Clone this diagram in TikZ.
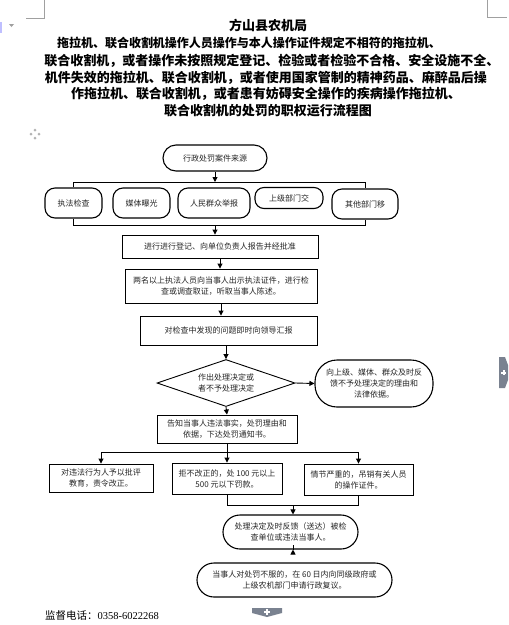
\documentclass[tikz,border=0pt]{standalone}
\usepackage{fontspec}
\newfontfamily\cjk{Noto Sans CJK SC}
\newfontfamily\serifnum{Liberation Serif}
\usetikzlibrary{arrows.meta,shapes.geometric}
\definecolor{artgray}{HTML}{A0A0A0}
\definecolor{tabgray}{HTML}{7A8290}
\tikzset{
  txt/.style={font=\cjk\fontsize{8}{11}\selectfont, text=black!85, align=center, inner sep=0pt},
  rectbox/.style={txt, draw, line width=0.9pt, rectangle},
  stadbox/.style={txt, draw, line width=1.1pt, rectangle},
  diambox/.style={txt, draw, line width=0.9pt, diamond, aspect=2.9},
  arr/.style={line width=0.9pt, -{Triangle[length=5pt,width=5pt]}},
  conn/.style={line width=0.9pt},
  ttl/.style={font=\cjk\bfseries\fontsize{13}{15}\selectfont, inner sep=0pt},
}
\begin{document}
\begin{tikzpicture}[x=1pt,y=-1pt]
\useasboundingbox[fill=white] (0,0) rectangle (509,625);

% page artifacts
\draw[artgray, line width=0.8pt] (44,0) -- (44,18) -- (26,18);
\draw[artgray, line width=0.8pt] (487,0) -- (487,17) -- (507,17);
\fill[blue!25] (0,22) rectangle (2,33);
\fill[artgray] (9,24) -- (14,24) -- (11.5,27) -- cycle;
\begin{scope}[shift={(35,134)}]
  \foreach \dx/\dy in {0/-4,0/4,-4/0,4/0}
    \fill[artgray!80] (\dx,\dy) +(-1.5,0) -- +(0,-1.5) -- +(1.5,0) -- +(0,1.5) -- cycle;
\end{scope}
\fill[tabgray] (499,357) -- (505,357) -- (508,365) -- (508,380) -- (505,388) -- (499,388) -- cycle;
\fill[white] (501,371.5) rectangle (506,373.5);
\fill[white] (502.5,370) rectangle (504.5,375);
\fill[tabgray] (252,608) -- (282,608) -- (282,613) -- (267,617) -- (252,613) -- cycle;
\fill[white] (264,611) rectangle (270,613);
\fill[white] (266,609) rectangle (268,615);

% title
\node[ttl] (t1) at (268,25) {方山县农机局};
\node[ttl, font=\cjk\bfseries\fontsize{12}{14}\selectfont] (t2) at (249,43) {拖拉机、联合收割机操作人员操作与本人操作证件规定不相符的拖拉机、};
\node[ttl] (t3) at (272,61) {联合收割机，或者操作未按照规定登记、检验或者检验不合格、安全设施不全、};
\node[ttl] (t4) at (266,78) {机件失效的拖拉机、联合收割机，或者使用国家管制的精神药品、麻醉品后操};
\node[ttl] (t5) at (266,94) {作拖拉机、联合收割机，或者患有妨碍安全操作的疾病操作拖拉机、};
\node[ttl] (t6) at (268,111) {联合收割机的处罚的职权运行流程图};

% source
\node[stadbox, minimum width=104pt, minimum height=26pt, rounded corners=13pt] (src) at (215,158) {行政处罚案件来源};
\node[stadbox, minimum width=57pt, minimum height=30pt, rounded corners=10pt] (a1) at (73.5,203) {执法检查};
\node[stadbox, minimum width=57pt, minimum height=30pt, rounded corners=10pt] (a2) at (141.5,203) {媒体曝光};
\node[stadbox, minimum width=72pt, minimum height=30pt, rounded corners=10pt] (a3) at (214,203) {人民群众举报};
\node[stadbox, minimum width=68pt, minimum height=21pt, rounded corners=9pt] (a4) at (289,198) {上级部门交};
\node[stadbox, minimum width=66pt, minimum height=30pt, rounded corners=10pt] (a5) at (365,204) {其他部门移};

\coordinate (bt) at (215,182);
\coordinate (bb) at (215,225);
\draw[arr] (src.south) -- (bt);
\draw[conn] (a1.north) -- (a1.north|-bt) -- (a5.north|-bt) -- (a5.north);
\draw[conn] (a1.south) -- (a1.south|-bb) -- (a5.south|-bb) -- (a5.south);

\node[rectbox, minimum width=196pt, minimum height=23pt] (b1) at (220,246.5) {进行进行登记、向单位负责人报告并经批准};
\node[rectbox, minimum width=192pt, minimum height=34pt, text width=184pt] (b2) at (221,286) {两名以上执法人员向当事人出示执法证件，进行检\\查或调查取证，听取当事人陈述。};
\node[rectbox, minimum width=177pt, minimum height=29pt] (b3) at (228.5,330.5) {对检查中发现的问题即时向领导汇报};

\draw[arr] (bb) -- (bb|-b1.north);
\draw[arr] (b1.south) -- (b1.south|-b2.north);
\draw[arr] (b2.south) -- (b2.south|-b3.north);

\node[diambox, minimum width=138pt, minimum height=47pt] (d) at (226,383) {作出处理决定或\\者不予处理决定};
\node[stadbox, minimum width=118pt, minimum height=47pt, rounded corners=22pt] (s) at (374,383.5) {向上级、媒体、群众及时反\\馈不予处理决定的理由和\\法律依据。};
\draw[arr] (b3.south-|d.north) -- (d.north);
\draw[arr] (d.east) -- (s.west);

\node[rectbox, minimum width=140pt, minimum height=28pt] (c) at (227,429) {告知当事人违法事实，处罚理由和\\依据，下达处罚通知书。};
\draw[arr] (d.south) -- (c.north);

\node[rectbox, minimum width=104pt, minimum height=28pt] (e1) at (101,478) {对违法行为人予以批评\\教育，责令改正。};
\node[rectbox, minimum width=110pt, minimum height=31pt] (e2) at (227,478.5) {拒不改正的，处 100 元以上\\500 元以下罚款。};
\node[rectbox, minimum width=109pt, minimum height=31pt] (e3) at (358.5,479.5) {情节严重的，吊销有关人员\\的操作证件。};

\coordinate (cb) at (227,452);
\draw[conn] (c.south) -- (cb);
\draw[conn] (e1.north|-cb) -- (e3.north|-cb);
\draw[arr] (e1.north|-cb) -- (e1.north);
\draw[arr] (e2.north|-cb) -- (e2.north);
\draw[arr] (e3.north|-cb) -- (e3.north);

\node[stadbox, minimum width=135pt, minimum height=34pt, rounded corners=17pt] (f1) at (290.5,532) {处理决定及时反馈（送达）被检\\查单位或违法当事人。};
\node[stadbox, minimum width=195pt, minimum height=34pt, rounded corners=17pt] (f2) at (294.5,580) {当事人对处罚不服的，在 60 日内向同级政府或\\上级农机部门申请行政复议。};

\coordinate (jb) at (293,505);
\draw[conn] (e2.south) -- (e2.south|-jb) -- (e3.south|-jb) -- (e3.south);
\draw[arr] (jb) -- (jb|-f1.north);
\draw[arr] (f1.south-|jb) -- (f1.south-|jb |- f2.north);

% footer
\node[inner sep=0pt, anchor=west, font=\fontsize{10.5}{12}\selectfont] (tel) at (45,615) {{\cjk 监督电话：}\serifnum 0358-6022268};
\end{tikzpicture}
\end{document}
